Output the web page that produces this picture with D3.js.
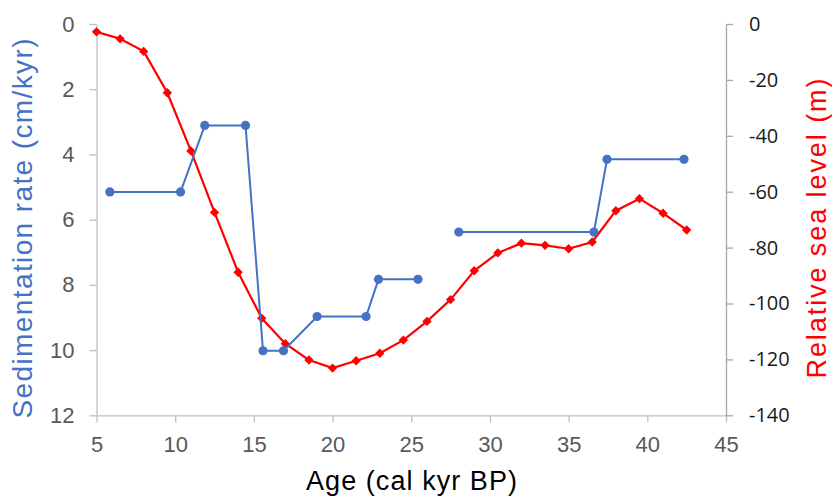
<!DOCTYPE html>
<html>
<head>
<meta charset="utf-8">
<script src="https://cdn.jsdelivr.net/npm/d3@7"></script>
<style>
  body { margin: 0; background: #fff; }
  svg { display: block; font-family: "Liberation Sans", Arial, sans-serif; }
  .axis path, .axis line { stroke: #bfbfbf; stroke-width: 1.3; }
  .axis text { fill: #595959; font-size: 22px; }
  .axis-right path, .axis-right line { stroke: #a6a6a6; }
  .axis-right text { fill: #1a1a1a; font-size: 20px; font-family: "Open Sans", "Noto Sans", sans-serif; }
</style>
</head>
<body>
<svg id="chart" width="833" height="497"></svg>
<script>
// Sedimentation rate (left axis, inverted) – null marks the gap between the two parts
const sedAge  = [5.85, 10.34, 11.88, 14.47, 15.58, 16.88, 19.02, 22.13, 22.92, 25.43, null, 28.02, 36.61, 37.44, 42.33];
const sedRate = [5.15, 5.15, 3.11, 3.11, 10.02, 10.02, 8.97, 8.97, 7.83, 7.83, null, 6.38, 6.38, 4.15, 4.15];

// Relative sea level (right axis)
const seaAge   = [5, 6.5, 8, 9.5, 11, 12.5, 14, 15.5, 17, 18.5, 20, 21.5, 23, 24.5, 26, 27.5, 29, 30.5, 32, 33.5, 35, 36.5, 38, 39.5, 41, 42.5];
const seaLevel = [-2.8, -5.3, -9.8, -24.6, -45.4, -67.4, -88.8, -105.3, -114.4, -120.2, -123.1, -120.5, -117.8, -113.1, -106.4, -98.6, -88.3, -81.9, -78.4, -79.2, -80.4, -78.0, -66.8, -62.5, -67.7, -73.7];

// Tick values
const xTicks = [5, 10, 15, 20, 25, 30, 35, 40, 45];
const leftTicks = [0, 2, 4, 6, 8, 10, 12];
const rightTicks = [0, -20, -40, -60, -80, -100, -120, -140];

const svg = d3.select("#chart");
const M = { top: 24, left: 96.5, right: 726, bottom: 415.3 };

const x = d3.scaleLinear().domain([5, 45]).range([M.left, M.right]);
const yL = d3.scaleLinear().domain([0, 12]).range([M.top, M.bottom]);
const yR = d3.scaleLinear().domain([0, -140]).range([M.top, M.bottom]);

// Axes
svg.append("g")
  .attr("class", "axis")
  .attr("transform", `translate(0,${M.bottom})`)
  .call(d3.axisBottom(x).tickValues(xTicks).tickSize(7).tickSizeOuter(0).tickPadding(14));

svg.append("g")
  .attr("class", "axis")
  .attr("transform", `translate(${M.left},0)`)
  .call(d3.axisLeft(yL).tickValues(leftTicks).tickSize(7).tickSizeOuter(0).tickPadding(15));

// plain hyphen for negatives, as in the original
svg.append("g")
  .attr("class", "axis axis-right")
  .attr("transform", `translate(${M.right},0)`)
  .call(d3.axisRight(yR).tickValues(rightTicks).tickFormat(d => String(d)).tickSize(7).tickSizeOuter(0).tickPadding(16));

// Sea level line + diamonds
const seaData = seaAge.map((a, i) => ({ a, v: seaLevel[i] }));
svg.append("path")
  .datum(seaData)
  .attr("fill", "none")
  .attr("stroke", "#ff0000")
  .attr("stroke-width", 2.2)
  .attr("d", d3.line().x(d => x(d.a)).y(d => yR(d.v)));

svg.selectAll("path.diamond")
  .data(seaData)
  .enter()
  .append("path")
  .attr("class", "diamond")
  .attr("fill", "#ff0000")
  .attr("transform", d => `translate(${x(d.a)},${yR(d.v)})`)
  .attr("d", d3.symbol(d3.symbolDiamond2, 56)());

// Sedimentation rate line + circles
const sedData = sedAge.map((a, i) => ({ a, v: sedRate[i] }));
svg.append("path")
  .datum(sedData)
  .attr("fill", "none")
  .attr("stroke", "#4472c4")
  .attr("stroke-width", 2)
  .attr("d", d3.line().defined(d => d.a !== null).x(d => x(d.a)).y(d => yL(d.v)));

svg.selectAll("circle.sed")
  .data(sedData.filter(d => d.a !== null))
  .enter()
  .append("circle")
  .attr("class", "sed")
  .attr("fill", "#4472c4")
  .attr("r", 4.6)
  .attr("cx", d => x(d.a))
  .attr("cy", d => yL(d.v));

// Axis titles
svg.append("text")
  .attr("transform", "translate(32,228.5) rotate(-90)")
  .attr("text-anchor", "middle")
  .attr("fill", "#4472c4")
  .attr("font-size", 28)
  .attr("textLength", 380)
  .attr("lengthAdjust", "spacing")
  .text("Sedimentation rate (cm/kyr)");

svg.append("text")
  .attr("transform", "translate(826,228.5) rotate(-90)")
  .attr("text-anchor", "middle")
  .attr("fill", "#ff0000")
  .attr("font-size", 27)
  .attr("textLength", 300)
  .attr("lengthAdjust", "spacing")
  .text("Relative sea level (m)");

svg.append("text")
  .attr("x", 411.5)
  .attr("y", 490)
  .attr("text-anchor", "middle")
  .attr("fill", "#000")
  .attr("font-size", 27)
  .attr("textLength", 211)
  .attr("lengthAdjust", "spacing")
  .text("Age (cal kyr BP)");
</script>
</body>
</html>
